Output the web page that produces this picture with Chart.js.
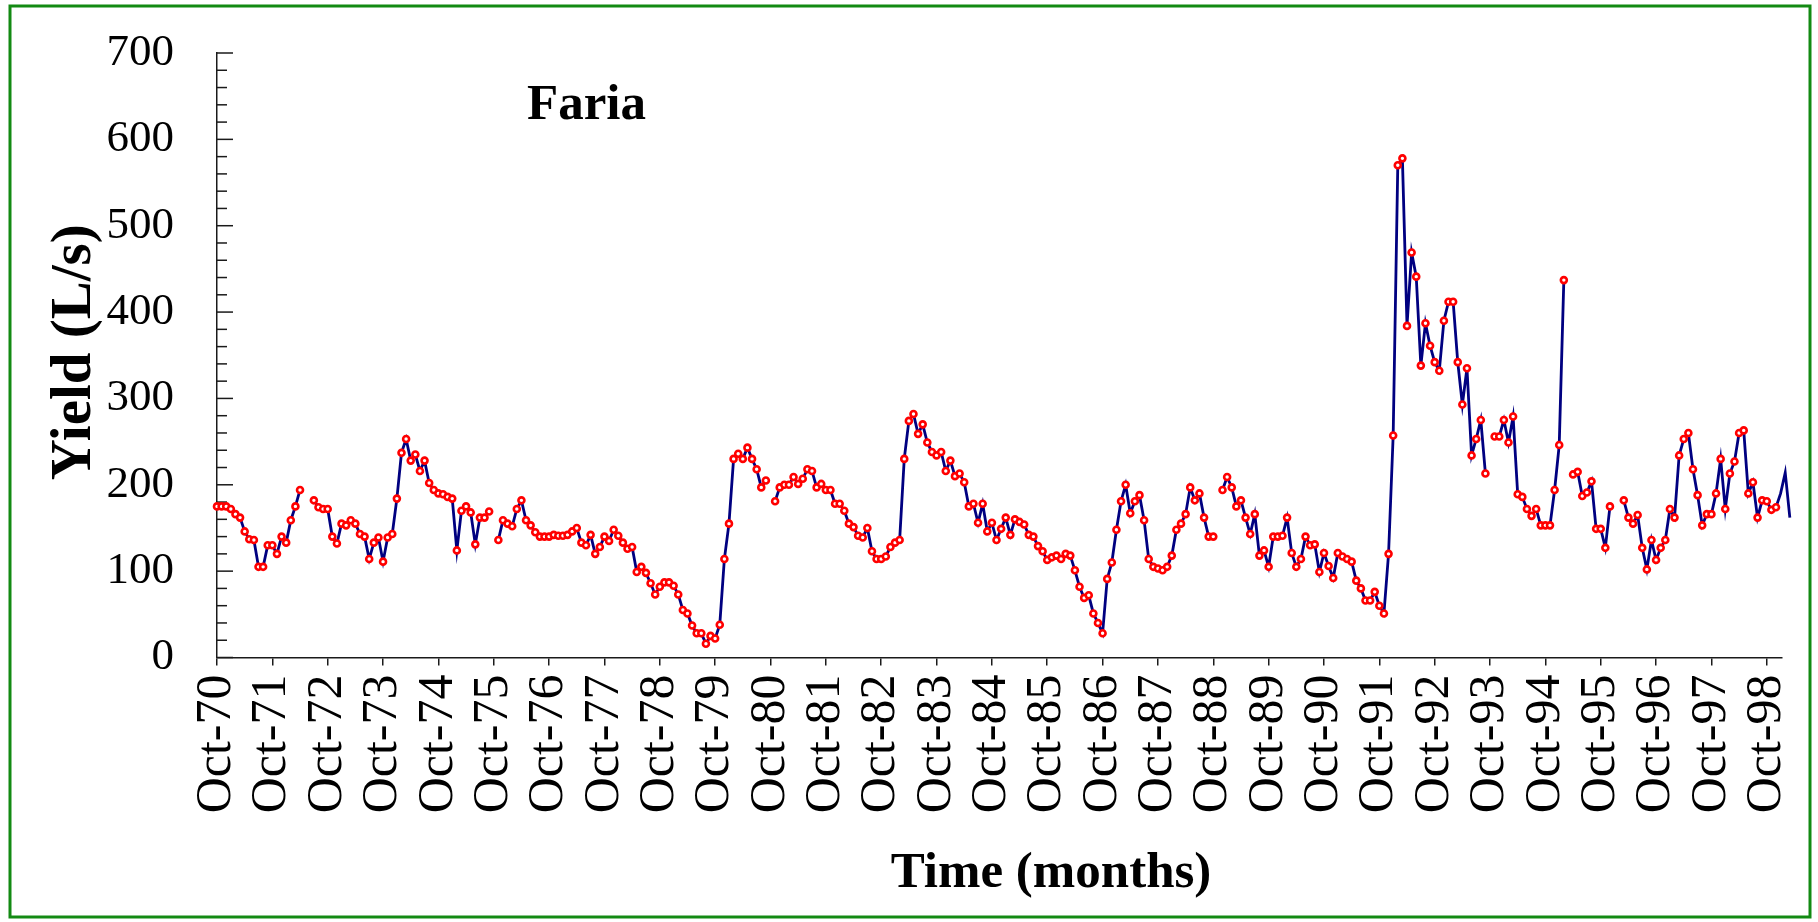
<!DOCTYPE html>
<html>
<head>
<meta charset="utf-8">
<title>Faria – monthly yield</title>
<script src="https://cdn.jsdelivr.net/npm/chart.js@4.4.1/dist/chart.umd.min.js"></script>
<style>
  html, body { margin: 0; padding: 0; background: #fff; }
  #wrap { position: relative; width: 1818px; height: 922px; }
  canvas { display: block; }
</style>
</head>
<body>
<div id="wrap"><canvas id="chart" width="1818" height="922"></canvas></div>
<script>
// Year labels on the time axis, one per October.
const tickLabels = [
  'Oct-70','Oct-71','Oct-72','Oct-73','Oct-74','Oct-75','Oct-76','Oct-77','Oct-78','Oct-79',
  'Oct-80','Oct-81','Oct-82','Oct-83','Oct-84','Oct-85','Oct-86','Oct-87','Oct-88','Oct-89',
  'Oct-90','Oct-91','Oct-92','Oct-93','Oct-94','Oct-95','Oct-96','Oct-97','Oct-98'
];

// Monthly yield (L/s), one row per hydrological year (Oct..Sep); null = no record.
const yield1970s = [
  175, 175, 175, 172, 166, 162, 146, 137, 136, 105, 105, 130,
  130, 120, 140, 133, 159, 175, 194, null, null, 182, 174, 172,
  172, 140, 132, 155, 153, 159, 155, 143, 140, 114, 133, 139,
  111, 139, 143, 184, 237, 253, 228, 235, 216, 228, 202, 194,
  190, 189, 186, 184, 124, 170, 175, 168, 131, 162, 162, 169,
  null, 136, 159, 155, 152, 172, 182, 159, 153, 145, 140, 140,
  140, 142, 141, 141, 142, 146, 150, 133, 130, 142, 120, 128,
  140, 135, 148, 141, 133, 126, 128, 99, 105, 98, 86, 73,
  82, 87, 87, 83, 73, 55, 51, 37, 28, 28, 16, 25,
  22, 38, 114, 155, 230, 236, 230, 243, 230, 218, 197, 205
];
const yield1980s = [
  null, 181, 197, 200, 200, 209, 201, 207, 218, 216, 197, 201,
  194, 194, 178, 178, 170, 155, 151, 141, 139, 150, 123, 114,
  114, 117, 128, 133, 136, 230, 274, 282, 259, 270, 249, 238,
  234, 238, 216, 228, 210, 213, 203, 175, 178, 156, 178, 146,
  156, 136, 149, 162, 142, 160, 157, 154, 142, 140, 129, 123,
  113, 116, 118, 114, 120, 118, 101, 82, 69, 72, 51, 40,
  28, 91, 110, 148, 181, 200, 167, 181, 188, 159, 114, 105,
  103, 101, 105, 118, 148, 155, 166, 197, 182, 190, 162, 140,
  140, null, 194, 209, 197, 175, 182, 162, 143, 166, 118, 124,
  105, 140, 140, 141, 162, 121, 105, 114, 140, 130, 131, 99
];
const yield1990s = [
  121, 106, 92, 121, 117, 114, 111, 89, 80, 66, 66, 76,
  60, 51, 120, 257, 570, 578, 384, 469, 441, 338, 387, 361,
  342, 332, 390, 412, 412, 342, 293, 335, 234, 253, 275, 213,
  null, 256, 256, 275, 249, 279, 189, 186, 172, 164, 172, 153,
  153, 153, 194, 246, 437, null, 212, 215, 187, 191, 204, 149,
  149, 127, 175, null, null, 182, 162, 155, 165, 127, 102, 136,
  113, 127, 136, 172, 162, 234, 253, 260, 218, 188, 153, 166,
  166, 190, 230, 172, 213, 227, 260, 263, 190, 203, 162, 182,
  181, 171, 174, 190, 214, 162
];

// Months shown with a marker (Oct-70 .. Dec-98); the last few are line only.
const markedMonths = 339;

// Visible extent of the time axis, in months from Oct-70.
const axisMonths = 339.3;

const monthlyYield = yield1970s.concat(yield1980s, yield1990s);
const points = monthlyYield.map((v, i) => ({ x: i, y: v }));

const SERIF = '"Liberation Serif", "Times New Roman", Times, serif';

// Inward y ticks (major every 100, minor every 20), titles and green frame.
const decorations = {
  id: 'decorations',
  beforeDraw(chart) {
    const { ctx, width, height } = chart;
    ctx.save();
    ctx.fillStyle = '#ffffff';
    ctx.fillRect(0, 0, width, height);
    ctx.restore();
  },
  beforeDatasetsDraw(chart) {
    const { ctx } = chart;
    const y = chart.scales.y;
    ctx.save();
    ctx.strokeStyle = '#1a1a1a';
    ctx.lineWidth = 1.5;
    for (let v = 0; v <= 700; v += 20) {
      const py = y.getPixelForValue(v);
      const len = v % 100 === 0 ? 16 : 10;
      ctx.beginPath();
      ctx.moveTo(y.right, py);
      ctx.lineTo(y.right + len, py);
      ctx.stroke();
    }
    ctx.restore();
  },
  afterDraw(chart) {
    const { ctx, chartArea } = chart;
    ctx.save();
    ctx.fillStyle = '#000';
    ctx.textBaseline = 'alphabetic';

    ctx.textAlign = 'left';
    ctx.font = 'bold 51px ' + SERIF;
    ctx.fillText('Faria', 527, 119);

    ctx.textAlign = 'center';
    ctx.font = 'bold 51px ' + SERIF;
    ctx.fillText('Time (months)', 1051, 887);

    ctx.save();
    ctx.translate(90, (chartArea.top + chartArea.bottom) / 2 - 3);
    ctx.rotate(-Math.PI / 2);
    ctx.font = 'bold 57px ' + SERIF;
    ctx.fillText('Yield (L/s)', 0, 0);
    ctx.restore();

    ctx.strokeStyle = '#138a13';
    ctx.lineWidth = 3;
    ctx.strokeRect(10, 6, 1800, 911);
    ctx.restore();
  }
};

new Chart(document.getElementById('chart'), {
  type: 'line',
  data: {
    datasets: [{
      data: points,
      borderColor: '#000080',
      borderWidth: 2.8,
      tension: 0,
      spanGaps: false,
      clip: false,
      pointStyle: 'circle',
      pointRadius: ctx => (ctx.dataIndex < markedMonths ? 3 : 0),
      pointBorderWidth: 2.6,
      pointBorderColor: '#ff0000',
      pointBackgroundColor: '#ffffff',
      pointHoverRadius: 0
    }]
  },
  options: {
    responsive: false,
    animation: false,
    devicePixelRatio: 1,
    events: [],
    layout: { padding: { left: 0, top: 53, right: 36, bottom: 0 } },
    plugins: { legend: { display: false }, tooltip: { enabled: false }, title: { display: false } },
    scales: {
      x: {
        type: 'linear',
        bounds: 'data',
        afterBuildTicks: s => {
          // the axis stops a little before the last months, which run past it
          s.min = 0;
          s.max = axisMonths;
          s.ticks = tickLabels.map((_, i) => ({ value: i * 12 }));
        },
        afterFit: s => {
          s.height = 922 - 657.5;
          s.paddingLeft = 0;
          s.paddingRight = 0;
        },
        ticks: {
          autoSkip: false,
          minRotation: 90,
          maxRotation: 90,
          padding: 9,
          color: '#000',
          font: { family: SERIF, size: 50 },
          callback: (value, index) => tickLabels[index]
        },
        grid: { drawOnChartArea: false, drawTicks: true, tickLength: 8, color: '#1a1a1a', lineWidth: 1.5 },
        border: { display: true, color: '#1a1a1a', width: 1.5 }
      },
      y: {
        min: 0,
        max: 700,
        afterFit: s => {
          s.width = 217;
          s.paddingTop = 0;
          s.paddingBottom = 0;
        },
        ticks: {
          stepSize: 100,
          padding: 43,
          color: '#000',
          font: { family: SERIF, size: 45 }
        },
        grid: { drawOnChartArea: false, drawTicks: false },
        border: { display: true, color: '#1a1a1a', width: 1.5 }
      }
    }
  },
  plugins: [decorations]
});
</script>
</body>
</html>
